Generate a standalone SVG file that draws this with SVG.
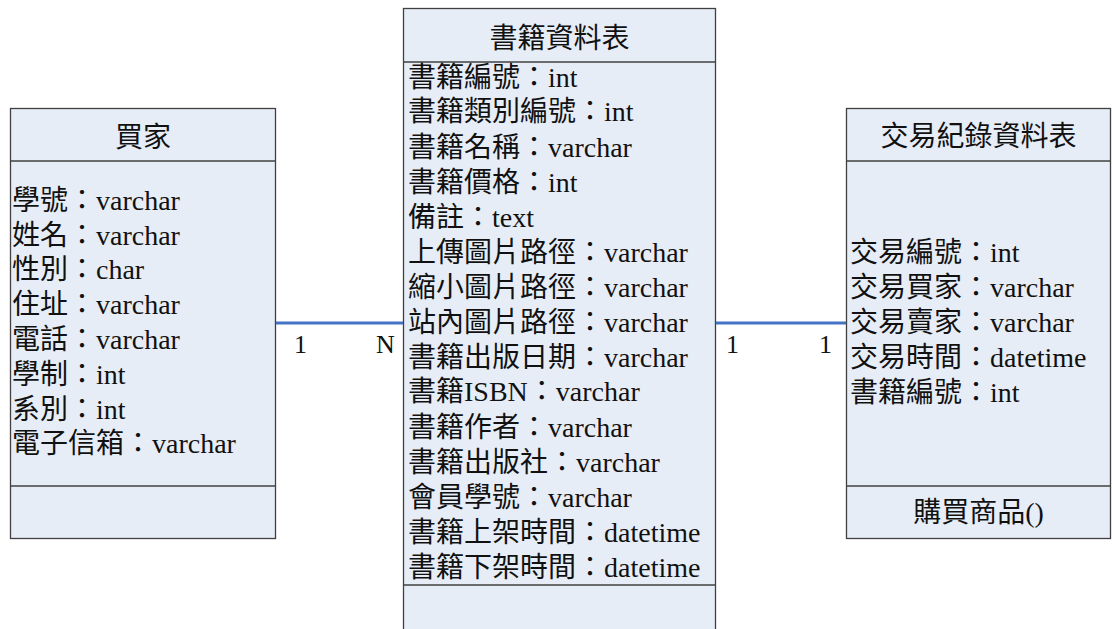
<svg xmlns="http://www.w3.org/2000/svg" width="1112" height="629" viewBox="0 0 1112 629">
<style>
.box{fill:#E7EDF7;stroke:#404040;stroke-width:1.3}
.div{stroke:#404040;stroke-width:1.3}
text{font-family:"Liberation Serif","Noto Sans CJK TC",serif;font-size:28px;fill:#111}
.t{text-anchor:middle}
.conn{stroke:#4472C4;stroke-width:3;fill:none}
.lbl{font-size:26px}
</style>
<rect width="1112" height="629" fill="#fff"/>
<g id="buyer">
<rect class="box" x="10.5" y="108.5" width="265" height="430"/>
<line class="div" x1="10.5" y1="161" x2="275.5" y2="161"/>
<line class="div" x1="10.5" y1="486" x2="275.5" y2="486"/>
<text class="t" x="143" y="147">買家</text>
<text x="12" y="210">學號：varchar</text>
<text x="12" y="245">姓名：varchar</text>
<text x="12" y="279">性別：char</text>
<text x="12" y="314">住址：varchar</text>
<text x="12" y="349">電話：varchar</text>
<text x="12" y="384">學制：int</text>
<text x="12" y="419">系別：int</text>
<text x="12" y="453">電子信箱：varchar</text>
</g>
<g id="books">
<rect class="box" x="403.5" y="8.5" width="312" height="640"/>
<line class="div" x1="403.5" y1="62" x2="715.5" y2="62"/>
<line class="div" x1="403.5" y1="585" x2="715.5" y2="585"/>
<text class="t" x="559.5" y="48">書籍資料表</text>
<text x="408" y="87">書籍編號：int</text>
<text x="408" y="121">書籍類別編號：int</text>
<text x="408" y="157">書籍名稱：varchar</text>
<text x="408" y="192">書籍價格：int</text>
<text x="408" y="227">備註：text</text>
<text x="408" y="262">上傳圖片路徑：varchar</text>
<text x="408" y="297">縮小圖片路徑：varchar</text>
<text x="408" y="332">站內圖片路徑：varchar</text>
<text x="408" y="367">書籍出版日期：varchar</text>
<text x="408" y="401">書籍ISBN：varchar</text>
<text x="408" y="437">書籍作者：varchar</text>
<text x="408" y="472">書籍出版社：varchar</text>
<text x="408" y="507">會員學號：varchar</text>
<text x="408" y="542">書籍上架時間：datetime</text>
<text x="408" y="577">書籍下架時間：datetime</text>
</g>
<g id="transactions">
<rect class="box" x="846.5" y="108.5" width="264" height="430"/>
<line class="div" x1="846.5" y1="161" x2="1110.5" y2="161"/>
<line class="div" x1="846.5" y1="486" x2="1110.5" y2="486"/>
<text class="t" x="978.5" y="146">交易紀錄資料表</text>
<text x="850" y="262">交易編號：int</text>
<text x="850" y="297">交易買家：varchar</text>
<text x="850" y="332">交易賣家：varchar</text>
<text x="850" y="367">交易時間：datetime</text>
<text x="850" y="402">書籍編號：int</text>
<text class="t" x="978.5" y="522">購買商品()</text>
</g>
<g id="connectors">
<line class="conn" x1="276" y1="323" x2="403" y2="323"/>
<line class="conn" x1="716" y1="323" x2="846" y2="323"/>
<text class="lbl" x="294" y="353">1</text>
<text class="lbl" x="376" y="353">N</text>
<text class="lbl" x="726" y="353">1</text>
<text class="lbl" x="819" y="353">1</text>
</g>
</svg>
